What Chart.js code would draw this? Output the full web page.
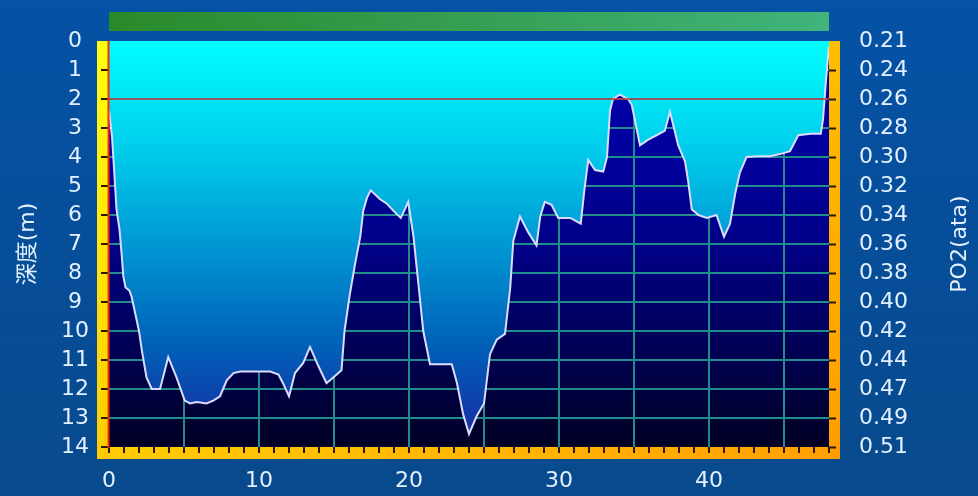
<!DOCTYPE html>
<html><head><meta charset="utf-8">
<script src="https://cdn.jsdelivr.net/npm/chart.js@4.4.1/dist/chart.umd.min.js"></script>
<style>html,body{margin:0;padding:0;background:#0550a0;overflow:hidden}canvas{display:block}</style>
</head><body>
<canvas id="c" width="978" height="496"></canvas>
<script>
// ---- data ----
const times = [0.0,0.2,0.3,0.5,0.7,0.85,0.95,1.1,1.35,1.5,2.0,2.2,2.5,2.85,3.4,3.95,4.5,5.05,5.4,5.85,6.5,6.95,7.4,7.85,8.3,8.75,10.75,11.3,11.6,12.0,12.4,12.95,13.4,13.95,14.5,14.95,15.5,15.7,16.05,16.4,16.75,16.95,17.2,17.45,18.05,18.5,18.95,19.45,19.95,20.3,20.6,20.95,21.4,22.85,23.2,23.6,24.0,24.5,25.0,25.4,25.85,26.4,26.75,26.95,27.4,27.95,28.5,28.75,29.05,29.5,29.95,30.75,31.45,31.7,31.95,32.4,32.95,33.2,33.4,33.6,34.05,34.6,34.85,35.05,35.4,35.95,36.5,37.05,37.4,37.95,38.4,38.6,38.85,39.3,39.85,40.5,41.0,41.4,41.75,42.05,42.5,43.2,44.05,44.75,45.4,45.95,46.75,47.45,47.6,47.8,47.95,48.0];
const depths = [2.4,3.3,4.1,5.8,6.5,7.4,8.1,8.5,8.6,8.8,10.0,10.7,11.6,12.0,12.0,10.9,11.6,12.4,12.5,12.45,12.5,12.4,12.25,11.7,11.45,11.4,11.4,11.5,11.8,12.25,11.45,11.1,10.55,11.2,11.8,11.6,11.35,10.0,8.75,7.7,6.75,5.85,5.4,5.15,5.45,5.6,5.85,6.1,5.55,6.75,8.25,10.0,11.15,11.15,11.8,12.85,13.55,12.95,12.5,10.8,10.3,10.1,8.5,6.9,6.05,6.6,7.05,6.05,5.55,5.65,6.1,6.1,6.3,5.1,4.1,4.45,4.5,4.0,2.4,2.0,1.85,2.0,2.2,2.7,3.6,3.4,3.25,3.1,2.45,3.6,4.15,4.8,5.8,6.0,6.1,6.0,6.75,6.3,5.25,4.55,4.0,3.97,3.97,3.9,3.8,3.25,3.2,3.2,2.7,1.35,0.45,0.2];
const depthTicks = [0,1,2,3,4,5,6,7,8,9,10,11,12,13,14];
const po2Labels = ['0.21','0.24','0.26','0.28','0.30','0.32','0.34','0.36','0.38','0.40','0.42','0.44','0.47','0.49','0.51'];
const timeLabels = [0,10,20,30,40];
const timeMax = 48;
const limitDepth = 2;
const depthTitle = '深度(m)';
const po2Title = 'PO2(ata)';

const FONT = '"DejaVu Sans", "Noto Sans CJK JP", sans-serif';
const LABEL = '#e4f0ff';
const GRID = '#208c8c';
const TICK = '#2a1800';

const profile = times.map((t, i) => ({x: t, y: depths[i]}));
const limitLine = [{x: 0, y: limitDepth}, {x: timeMax, y: limitDepth}];

const decor = {
  id: 'decor',
  beforeDraw(chart) {
    const {ctx, chartArea: ca, width, height} = chart;
    ctx.save();
    let g = ctx.createLinearGradient(0, 0, 0, height);
    g.addColorStop(0, '#0552a6'); g.addColorStop(1, '#084a8c');
    ctx.fillStyle = g; ctx.fillRect(0, 0, width, height);
    // top green bar
    g = ctx.createLinearGradient(ca.left, 0, ca.right, 0);
    g.addColorStop(0, '#2a8a2a'); g.addColorStop(1, '#40b47c');
    ctx.fillStyle = g; ctx.fillRect(ca.left, 12, ca.right - ca.left, 19);
    // frame strips
    g = ctx.createLinearGradient(0, ca.top, 0, ca.bottom + 12);
    g.addColorStop(0, '#ffff10'); g.addColorStop(1, '#ffcc00');
    ctx.fillStyle = g; ctx.fillRect(ca.left - 12, ca.top, 12, ca.bottom + 12 - ca.top);
    g = ctx.createLinearGradient(ca.left - 12, 0, ca.right + 11, 0);
    g.addColorStop(0, '#ffcc00'); g.addColorStop(1, '#ffa000');
    ctx.fillStyle = g; ctx.fillRect(ca.left - 12, ca.bottom, ca.right + 11 - (ca.left - 12), 12);
    g = ctx.createLinearGradient(0, ca.top, 0, ca.bottom + 12);
    g.addColorStop(0, '#ffbe00'); g.addColorStop(1, '#ff9c00');
    ctx.fillStyle = g; ctx.fillRect(ca.right, ca.top, 11, ca.bottom + 12 - ca.top);
    // dark chart area
    g = ctx.createLinearGradient(0, ca.top, 0, ca.bottom);
    g.addColorStop(0, '#0000b4'); g.addColorStop(0.5, '#000088'); g.addColorStop(1, '#000024');
    ctx.fillStyle = g; ctx.fillRect(ca.left, ca.top, ca.right - ca.left, ca.bottom - ca.top);
    ctx.restore();
  },
  afterDatasetsDraw(chart) {
    const {ctx, chartArea: ca} = chart;
    ctx.save();
    ctx.strokeStyle = '#ff2a00';
    ctx.lineWidth = 2;
    ctx.beginPath();
    ctx.moveTo(ca.left - 0.5, ca.top);
    ctx.lineTo(ca.left - 0.5, ca.bottom + 1);
    ctx.stroke();
    ctx.restore();
  },
  afterDraw(chart) {
    const {ctx, chartArea: ca} = chart;
    ctx.save();
    ctx.translate(960, (ca.top + ca.bottom) / 2);
    ctx.rotate(-Math.PI / 2);
    ctx.font = '22px ' + FONT;
    ctx.fillStyle = LABEL;
    ctx.textAlign = 'center';
    ctx.textBaseline = 'middle';
    ctx.fillText(po2Title, 0, 0);
    ctx.restore();
  }
};

function waterFill(ctx) {
  const ca = ctx.chart.chartArea;
  if (!ca) return '#00c0e0';
  const g = ctx.chart.ctx.createLinearGradient(0, ca.top, 0, ca.bottom);
  g.addColorStop(0, '#00ffff');
  g.addColorStop(0.25, '#00d0ec');
  g.addColorStop(0.5, '#0098d4');
  g.addColorStop(0.75, '#0060b8');
  g.addColorStop(1, '#1a28a0');
  return g;
}

new Chart(document.getElementById('c'), {
  type: 'line',
  data: {
    datasets: [
      {data: limitLine, yAxisID: 'y', borderColor: 'rgba(200,30,40,0.72)', borderWidth: 2, pointRadius: 0, fill: false},
      {data: profile, yAxisID: 'y', borderColor: '#dcdcff', borderWidth: 2, pointRadius: 0, tension: 0, fill: 'end', backgroundColor: waterFill}
    ]
  },
  options: {
    responsive: false,
    animation: false,
    devicePixelRatio: 1,
    layout: {padding: {left: 0, right: 0, top: 41, bottom: 0}},
    plugins: {legend: {display: false}, tooltip: {enabled: false}},
    scales: {
      x: {
        type: 'linear', position: 'bottom', min: 0, max: timeMax, offset: false,
        ticks: {stepSize: 1, autoSkip: false, maxRotation: 0, color: LABEL, font: {family: FONT, size: 22}, padding: 15,
          callback: v => timeLabels.includes(v) ? String(v) : ''},
        grid: {
          color: c => (c.tick && c.tick.value % 5 === 0 && c.tick.value > 0 && c.tick.value < timeMax) ? GRID : 'rgba(0,0,0,0)',
          lineWidth: 2, tickColor: TICK, tickLength: 6, tickWidth: 2
        },
        border: {display: false},
        afterFit: s => { s.height = 49; }
      },
      y: {
        type: 'linear', position: 'left', min: 0, max: 14, reverse: true,
        afterBuildTicks: s => { s.ticks = depthTicks.map(v => ({value: v})); },
        ticks: {autoSkip: false, color: LABEL, font: {family: FONT, size: 22}, crossAlign: 'center', padding: 12},
        grid: {
          color: c => (c.tick && c.tick.value > 0 && c.tick.value < 14) ? GRID : 'rgba(0,0,0,0)',
          lineWidth: 2,
          tickColor: c => (c.tick && c.tick.value > 0) ? TICK : 'rgba(0,0,0,0)',
          tickLength: 8, tickWidth: 2
        },
        border: {display: false},
        title: {display: true, text: depthTitle, color: LABEL, font: {family: FONT, size: 22}, padding: {top: 15, bottom: 0}},
        afterFit: s => { s.width = 109; }
      },
      y2: {
        type: 'linear', position: 'right', min: 0, max: 14, reverse: true,
        afterBuildTicks: s => { s.ticks = depthTicks.map(v => ({value: v})); },
        ticks: {autoSkip: false, color: LABEL, font: {family: FONT, size: 22}, padding: 23,
          callback: (v, i) => po2Labels[i]},
        grid: {
          drawOnChartArea: false,
          tickColor: c => (c.tick && c.tick.value > 0) ? TICK : 'rgba(0,0,0,0)',
          tickLength: 7, tickWidth: 2
        },
        border: {display: false},
        afterFit: s => { s.width = 149; }
      }
    }
  },
  plugins: [decor]
});
</script>
</body></html>
